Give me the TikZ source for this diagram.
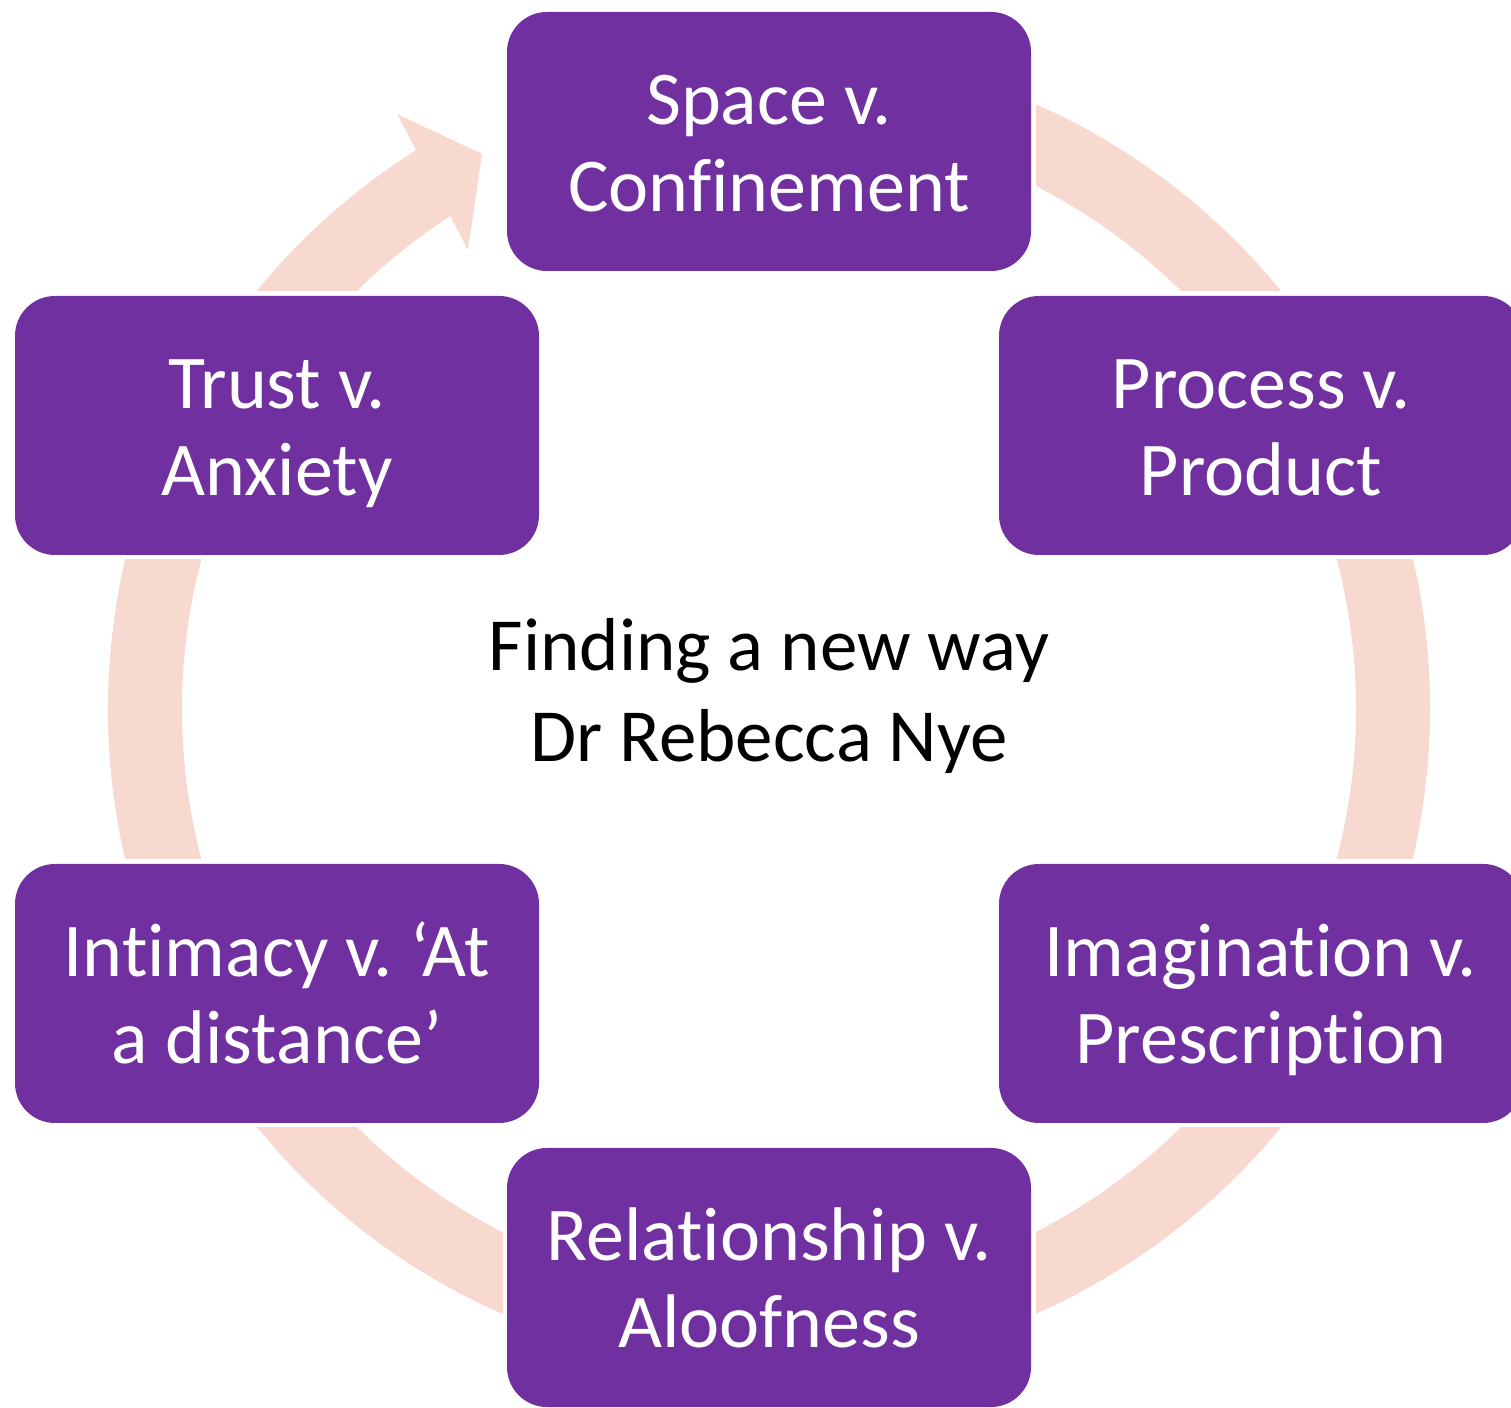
\documentclass[tikz,border=0pt]{standalone}
\usepackage{fontspec}
\setmainfont{Carlito}[RawFeature={-liga;-clig;-calt;-dlig;-rlig}]
\frenchspacing
\definecolor{boxpurple}{RGB}{112,48,160}
\definecolor{ringpeach}{RGB}{247,217,207}
\newcommand{\bxstrut}{\rule[-17pt]{0pt}{87pt}}
\newcommand{\ctstrut}{\rule[-38pt]{0pt}{88pt}}
\newcommand{\nolig}{\kern0pt\relax}
\begin{document}
\begin{tikzpicture}[x=1pt,y=1pt,
  stage/.style={rectangle, rounded corners=40pt, fill=boxpurple, draw=none,
    minimum width=524pt, minimum height=259pt, inner sep=0pt, text=white,
    align=center, font=\fontsize{76}{87}\selectfont},
  gapmask/.style={rectangle, fill=white, draw=none, minimum width=533pt,
    minimum height=268pt, inner sep=0pt},
  centretext/.style={inner sep=0pt, align=center, text=black,
    font=\fontsize{75}{88}\selectfont}]
\useasboundingbox (0,0) rectangle (1511,1407);
\clip (0,0) rectangle (1511,1407);
\coordinate (c) at (769,698);
% circular arrow ring
\fill[ringpeach] ([shift={(122.27:661)}]c)
  arc[start angle=122.27, end angle=450, radius=661]
  -- ([shift={(450:587)}]c)
  arc[start angle=450, end angle=122.9, radius=587]
  -- (468,1157) -- (482,1253) -- (397,1293) -- cycle;
% gaps around the boxes
\node[gapmask] (m1) at (769,1265.5) {};
\node[gapmask] (m2) at (1261,981.5) {};
\node[gapmask] (m3) at (1261,413.5) {};
\node[gapmask] (m4) at (769,129.5) {};
\node[gapmask] (m5) at (277,413.5) {};
\node[gapmask] (m6) at (277,981.5) {};
% boxes
\node[stage] (space) at (769,1265.5) {\bxstrut Space v.\\\bxstrut Conf\nolig inement};
\node[stage] (process) at (1261,981.5) {\bxstrut Process v.\\\bxstrut Product};
\node[stage] (imagination) at (1261,413.5) {\bxstrut Imaginat\nolig ion v.\\\bxstrut Prescript\nolig ion};
\node[stage] (relationship) at (769,129.5) {\bxstrut Relat\nolig ionship v.\\\bxstrut Aloofness};
\node[stage] (intimacy) at (277,413.5) {\bxstrut Int\nolig imacy v. ‘At\\\bxstrut a dist\nolig ance’};
\node[stage] (trust) at (277,981.5) {\bxstrut Trust v.\\\bxstrut Anxiety};
% centre title
\node[centretext] (title) at (769,698) {\ctstrut Finding a new way\\\ctstrut Dr Rebecca Nye};
\end{tikzpicture}
\end{document}
